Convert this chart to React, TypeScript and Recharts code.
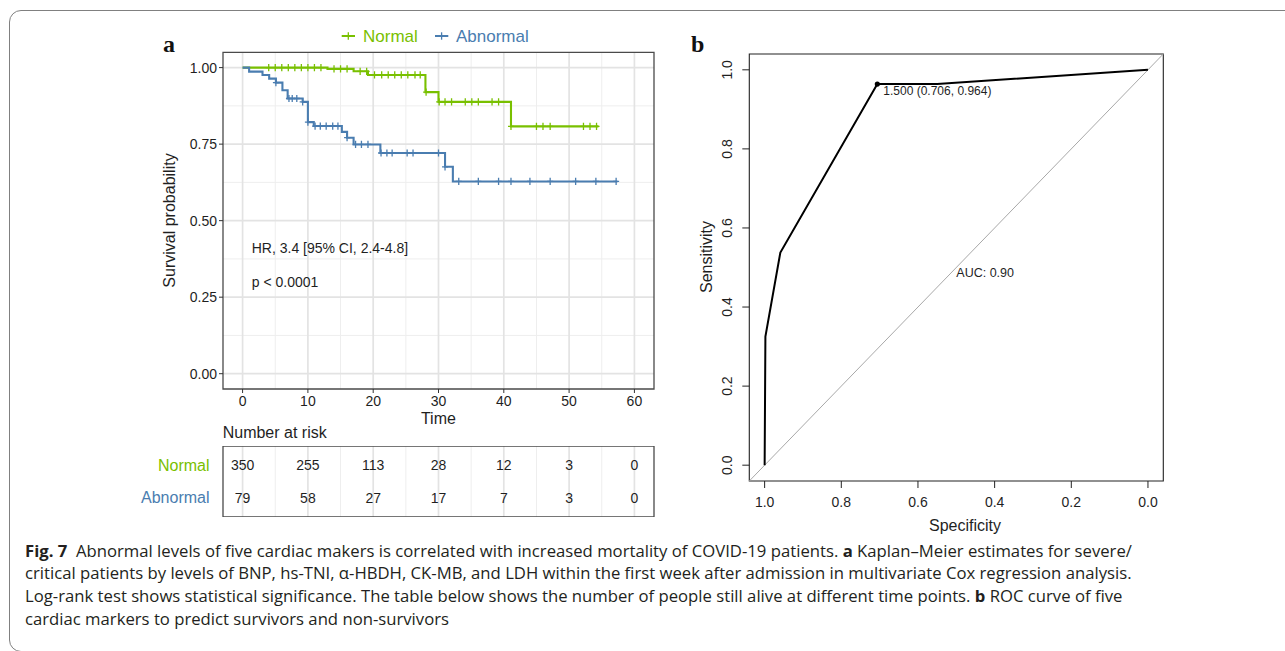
import React from 'react';
import {
  ComposedChart,
  Line,
  Scatter,
  XAxis,
  YAxis,
  CartesianGrid,
  ReferenceLine,
  ReferenceArea,
} from 'recharts';

const FONT = '"Liberation Sans", Arial, Helvetica, sans-serif';
const SERIF = '"Liberation Serif", "Times New Roman", serif';
const CAPTION_FONT = '"Open Sans", "Noto Sans", sans-serif';
const GREEN = '#79C000';
const BLUE = '#4A7DB0';
const TXT = '#1f1f1f';

// ---- Panel a: Kaplan–Meier steps ----
const normalTimes = [0, 13.0, 17.0, 19.2, 28.0, 30.0, 41.1, 54.5];
const normalSurv = [1, 0.996, 0.988, 0.976, 0.92, 0.888, 0.808, 0.808];
const abnormalTimes = [0, 1.0, 3.05, 4.07, 5.1, 6.1, 6.9, 9.2, 10.0, 10.9, 15.2, 16.0, 17.0, 21.1, 31.0, 32.2, 57.4];
const abnormalSurv = [1, 0.987, 0.976, 0.964, 0.951, 0.926, 0.899, 0.888, 0.822, 0.809, 0.79, 0.771, 0.749, 0.721, 0.676, 0.628, 0.628];

// censor times
const normalCensorTimes = [4, 5, 6, 7, 8, 9, 10, 11, 12, 14, 15, 16, 18, 19, 20.2, 21.3, 22.3, 23.3, 24.3, 25.3, 26.4, 27.2, 28.1, 30.1, 31.0, 32.0, 34.1, 35.1, 36.1, 38.2, 39.2, 41.1, 45.0, 46.0, 47.1, 52.2, 53.2, 54.2];
const abnormalCensorTimes = [5.1, 7.1, 7.6, 8.3, 9.2, 10.0, 11.1, 11.9, 12.8, 13.8, 14.6, 16.0, 17.3, 18.2, 19.2, 21.2, 22.1, 22.9, 25.2, 26.1, 30.0, 31.0, 33.1, 36.1, 39.2, 41.1, 44.0, 47.1, 51.0, 54.1, 57.2];

// risk table
const groupNames = ['Normal', 'Abnormal'];
const riskTimes = [0, 10, 20, 30, 40, 50, 60];
const normalRisk = [350, 255, 113, 28, 12, 3, 0];
const abnormalRisk = [79, 58, 27, 17, 7, 3, 0];

// annotations
const hrText = 'HR, 3.4 [95% CI, 2.4-4.8]';
const pText = 'p < 0.0001';

// axis ticks
const kmXTicks = [0, 10, 20, 30, 40, 50, 60];
const kmXMinor = [5, 15, 25, 35, 45, 55];
const kmYTicks = [0, 0.25, 0.5, 0.75, 1];
const kmYMinor = [0.125, 0.375, 0.625, 0.875];

// ---- Panel b: ROC ----
const rocSpecificity = [1.0, 0.998, 0.959, 0.706, 0.55, 0.0];
const rocSensitivity = [0.0, 0.325, 0.538, 0.964, 0.964, 1.0];
const bestThreshold = { label: '1.500 (0.706, 0.964)', sp: 0.706, se: 0.964 };
const aucText = 'AUC: 0.90';
const rocTicks = [0, 0.2, 0.4, 0.6, 0.8, 1.0];

// ---- derived tables ----
const stepAt = (times: number[], surv: number[], t: number) => {
  let v = surv[0];
  for (let i = 0; i < times.length; i++) if (times[i] <= t + 1e-9) v = surv[i];
  return v;
};
const normalCurve = normalTimes.map((t, i) => ({ t, s: normalSurv[i] }));
const abnormalCurve = abnormalTimes.map((t, i) => ({ t, s: abnormalSurv[i] }));
const normalCensor = normalCensorTimes.map((t) => ({ t, s: stepAt(normalTimes, normalSurv, t) }));
const abnormalCensor = abnormalCensorTimes.map((t) => ({ t, s: stepAt(abnormalTimes, abnormalSurv, t) }));
const riskData = [
  ...riskTimes.map((t, i) => ({ t, r: 2, v: normalRisk[i] })),
  ...riskTimes.map((t, i) => ({ t, r: 1, v: abnormalRisk[i] })),
];
const rocData = rocSpecificity.map((sp, i) => ({ sp, se: rocSensitivity[i] }));

const censorShape = (color: string) => (p: any) => {
  const { cx, cy } = p;
  if (cx == null || cy == null) return <g />;
  return (
    <g>
      <line x1={cx - 3} x2={cx + 3} y1={cy} y2={cy} stroke={color} strokeWidth={1.3} />
      <line x1={cx} x2={cx} y1={cy - 3.6} y2={cy + 3.6} stroke={color} strokeWidth={1.3} />
    </g>
  );
};

const textShape = (txt: string, dx: number, dy: number, size: number) => (p: any) => (
  <text x={p.cx + dx} y={p.cy + dy} fontSize={size} fill={TXT} fontFamily={FONT}>
    {txt}
  </text>
);

const RiskYTick = (p: any) => {
  const idx = p.payload.value === 2 ? 0 : 1;
  return (
    <text x={p.x} y={p.y} textAnchor="end" dominantBaseline="central" fontSize={16} fill={idx === 0 ? GREEN : BLUE} fontFamily={FONT}>
      {groupNames[idx]}
    </text>
  );
};

const RocYTick = (p: any) => {
  const { x, y, payload } = p;
  return (
    <text x={x} y={y} transform={`rotate(-90 ${x} ${y})`} textAnchor="middle" fontSize={14} fill={TXT} fontFamily={FONT}>
      {Number(payload.value).toFixed(1)}
    </text>
  );
};

const tickStyle = { fontSize: 14, fill: TXT, fontFamily: FONT };

export default function App() {
  return (
    <div style={{ position: 'absolute', left: 0, top: 0, width: 1285, height: 651, background: '#fff', overflow: 'hidden' }}>
      <div
        style={{
          position: 'absolute',
          left: 9,
          top: 10,
          width: 1300,
          height: 642,
          border: '1.4px solid #808080',
          borderRadius: '12px 0 0 12px',
          boxSizing: 'border-box',
        }}
      />

      {/* Panel a: KM curves */}
      <div style={{ position: 'absolute', left: 140, top: 20 }}>
        <ComposedChart width={530} height={409} margin={{ top: 32.3, right: 16, bottom: 0, left: 0 }}>
          <CartesianGrid verticalValues={kmXMinor} horizontalValues={kmYMinor} stroke="#eeeeee" strokeWidth={1} />
          <CartesianGrid verticalValues={kmXTicks} horizontalValues={kmYTicks} stroke="#e3e3e3" strokeWidth={1.7} />
          <XAxis
            type="number"
            dataKey="t"
            domain={[-3, 63]}
            allowDataOverflow
            ticks={kmXTicks}
            tickSize={4}
            tickMargin={3}
            axisLine={false}
            tickLine={{ stroke: '#333' }}
            tick={tickStyle}
            height={40}
          />
          <YAxis
            type="number"
            dataKey="s"
            domain={[-0.05, 1.05]}
            allowDataOverflow
            ticks={kmYTicks}
            tickFormatter={(v: number) => v.toFixed(2)}
            tickSize={4}
            tickMargin={2}
            axisLine={false}
            tickLine={{ stroke: '#333' }}
            tick={tickStyle}
            width={83}
          />
          <Line data={normalCurve} dataKey="s" type="stepAfter" stroke={GREEN} strokeWidth={2.1} dot={false} isAnimationActive={false} />
          <Line data={abnormalCurve} dataKey="s" type="stepAfter" stroke={BLUE} strokeWidth={2.1} dot={false} isAnimationActive={false} />
          <Scatter data={normalCensor} shape={censorShape(GREEN)} isAnimationActive={false} />
          <Scatter data={abnormalCensor} shape={censorShape(BLUE)} isAnimationActive={false} />
          <Scatter data={[{ t: 1.4, s: 0.41 }]} shape={textShape(hrText, 0, 5, 14)} isAnimationActive={false} />
          <Scatter data={[{ t: 1.4, s: 0.3 }]} shape={textShape(pText, 0, 5, 14)} isAnimationActive={false} />
          <ReferenceArea x1={-3} x2={63} y1={-0.05} y2={1.05} fill="none" fillOpacity={0} stroke="#4a4a4a" strokeWidth={1.3} />
        </ComposedChart>
      </div>

      {/* Risk table */}
      <div style={{ position: 'absolute', left: 100, top: 445.7 }}>
        <ComposedChart width={570} height={71} margin={{ top: 0, right: 16, bottom: 0, left: 0 }}>
          <CartesianGrid verticalValues={kmXMinor} horizontal={false} stroke="#eeeeee" strokeWidth={1} />
          <CartesianGrid verticalValues={kmXTicks} horizontal={false} stroke="#e3e3e3" strokeWidth={1.7} />
          <XAxis type="number" dataKey="t" domain={[-3, 63]} allowDataOverflow ticks={kmXTicks} hide />
          <YAxis
            type="number"
            dataKey="r"
            domain={[0.4, 2.6]}
            allowDataOverflow
            ticks={[1, 2]}
            tickSize={0}
            tickMargin={13.5}
            axisLine={false}
            tickLine={false}
            tick={RiskYTick}
            width={123}
          />
          <Scatter
            data={riskData}
            isAnimationActive={false}
            shape={(p: any) => (
              <text x={p.cx} y={p.cy} textAnchor="middle" dominantBaseline="central" fontSize={14} fill={TXT} fontFamily={FONT}>
                {p.payload.v}
              </text>
            )}
          />
          <ReferenceArea x1={-3} x2={63} y1={0.4} y2={2.6} fill="none" fillOpacity={0} stroke="#4a4a4a" strokeWidth={1.3} />
        </ComposedChart>
      </div>

      {/* Panel b: ROC */}
      <div style={{ position: 'absolute', left: 680, top: 0 }}>
        <ComposedChart width={500} height={545} margin={{ top: 54, right: 16.7, bottom: 0, left: 0 }}>
          <XAxis
            type="number"
            dataKey="sp"
            domain={[-0.04, 1.04]}
            allowDataOverflow
            reversed
            ticks={rocTicks}
            tickFormatter={(v: number) => v.toFixed(1)}
            tickSize={7}
            tickMargin={8.7}
            axisLine={false}
            tickLine={{ stroke: '#222' }}
            tick={tickStyle}
            height={64}
          />
          <YAxis
            type="number"
            dataKey="se"
            domain={[-0.04, 1.04]}
            allowDataOverflow
            ticks={rocTicks}
            tickSize={7}
            tickMargin={10.6}
            axisLine={false}
            tickLine={{ stroke: '#222' }}
            tick={RocYTick}
            width={69.3}
          />
          <ReferenceLine
            segment={[
              { x: 1.04, y: -0.04 },
              { x: -0.04, y: 1.04 },
            ]}
            stroke="#a8a8a8"
            strokeWidth={1}
          />
          <Line data={rocData} dataKey="se" type="linear" stroke="#000" strokeWidth={2} dot={false} isAnimationActive={false} />
          <Scatter
            data={[{ sp: bestThreshold.sp, se: bestThreshold.se }]}
            isAnimationActive={false}
            shape={(p: any) => <circle cx={p.cx} cy={p.cy} r={2.6} fill="#000" />}
          />
          <Scatter data={[{ sp: bestThreshold.sp, se: bestThreshold.se }]} shape={textShape(bestThreshold.label, 6, 11, 12)} isAnimationActive={false} />
          <Scatter data={[{ sp: 0.5, se: 0.5 }]} shape={textShape(aucText, 0, 9.5, 12.5)} isAnimationActive={false} />
          <ReferenceArea x1={-0.04} x2={1.04} y1={-0.04} y2={1.04} fill="none" fillOpacity={0} stroke="#222" strokeWidth={1.1} />
        </ComposedChart>
      </div>

      {/* Free text overlay */}
      <svg width={1285} height={651} style={{ position: 'absolute', left: 0, top: 0, pointerEvents: 'none' }}>
        <text x={163} y={52} fontSize={24} fontWeight="bold" fontFamily={SERIF} fill="#111">a</text>
        <text x={691} y={52} fontSize={24} fontWeight="bold" fontFamily={SERIF} fill="#111">b</text>

        {/* legend */}
        <line x1={341.7} x2={355} y1={36} y2={36} stroke={GREEN} strokeWidth={2} />
        <line x1={348.3} x2={348.3} y1={32.3} y2={39.7} stroke={GREEN} strokeWidth={1.3} />
        <text x={363} y={42} fontSize={17} fill={GREEN} fontFamily={FONT}>{groupNames[0]}</text>
        <line x1={435} x2={448.3} y1={36} y2={36} stroke={BLUE} strokeWidth={2} />
        <line x1={441.6} x2={441.6} y1={32.3} y2={39.7} stroke={BLUE} strokeWidth={1.3} />
        <text x={456} y={42} fontSize={17} fill={BLUE} fontFamily={FONT}>{groupNames[1]}</text>

        <text x={169} y={220.5} transform="rotate(-90 169 220.5)" textAnchor="middle" dominantBaseline="central" fontSize={16} fill={TXT} fontFamily={FONT}>
          Survival probability
        </text>
        <text x={438.4} y={423.5} textAnchor="middle" fontSize={16} fill={TXT} fontFamily={FONT}>Time</text>
        <text x={222.7} y={437.5} fontSize={16} fill={TXT} fontFamily={FONT}>Number at risk</text>

        <text x={706} y={257} transform="rotate(-90 706 257)" textAnchor="middle" dominantBaseline="central" fontSize={16} fill={TXT} fontFamily={FONT}>
          Sensitivity
        </text>
        <text x={965} y={531} textAnchor="middle" fontSize={16} fill={TXT} fontFamily={FONT}>Specificity</text>
      </svg>

      {/* Caption */}
      <div
        style={{
          position: 'absolute',
          left: 25,
          top: 539.5,
          fontFamily: CAPTION_FONT,
          fontSize: 16.7,
          lineHeight: '22.8px',
          color: '#231f20',
          whiteSpace: 'nowrap',
        }}
      >
        <div>
          <b>Fig. 7</b>&nbsp; Abnormal levels of five cardiac makers is correlated with increased mortality of COVID-19 patients. <b>a</b> Kaplan–Meier estimates for severe/
        </div>
        <div>critical patients by levels of BNP, hs-TNI, α-HBDH, CK-MB, and LDH within the first week after admission in multivariate Cox regression analysis.</div>
        <div>
          Log-rank test shows statistical significance. The table below shows the number of people still alive at different time points. <b>b</b> ROC curve of five
        </div>
        <div>cardiac markers to predict survivors and non-survivors</div>
      </div>
    </div>
  );
}
